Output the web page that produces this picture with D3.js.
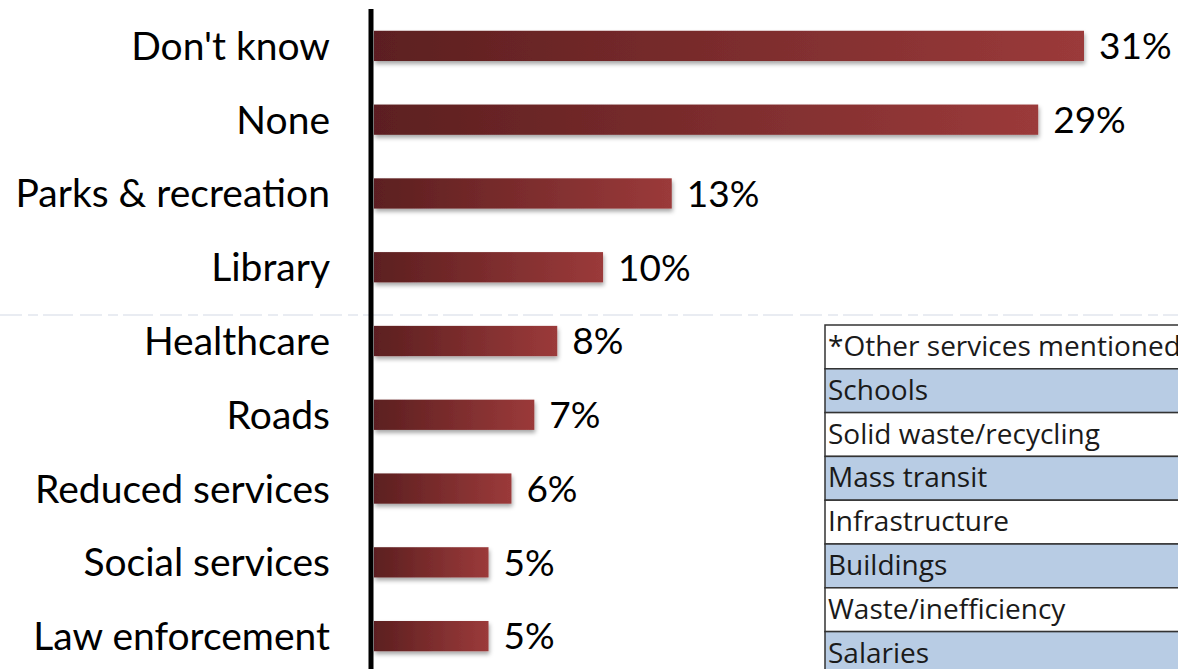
<!DOCTYPE html>
<html lang="en">
<head>
  <meta charset="utf-8" />
  <title>Services to cut</title>
  <script src="https://cdn.jsdelivr.net/npm/d3@7/dist/d3.min.js"></script>
  <style>
    body { margin: 0; background: #fff; }
    svg { display: block; }
    .cat-label { font-family: Lato, "Open Sans", sans-serif; font-size: 39px; fill: #000; }
    .val-label { font-family: Lato, "Open Sans", sans-serif; font-size: 37px; fill: #000; }
    .tbl-text { font-family: "Open Sans", Lato, sans-serif; font-size: 28px; fill: #1a1a1a; }
  </style>
</head>
<body>
<div id="chart"></div>
<script>
  // data
  const categories = ["Don't know", "None", "Parks & recreation", "Library", "Healthcare",
                      "Roads", "Reduced services", "Social services", "Law enforcement"];
  const values = [31, 29, 13, 10, 8, 7, 6, 5, 5];
  const otherServices = ["*Other services mentioned", "Schools", "Solid waste/recycling",
                         "Mass transit", "Infrastructure", "Buildings", "Waste/inefficiency", "Salaries"];

  const width = 1178, height = 669;
  const svg = d3.select("#chart").append("svg")
    .attr("width", width)
    .attr("height", height);

  const defs = svg.append("defs");
  const grad = defs.append("linearGradient")
    .attr("id", "barGrad").attr("x1", 0).attr("x2", 1).attr("y1", 0).attr("y2", 0);
  grad.append("stop").attr("offset", "0%").attr("stop-color", "#5c1f20");
  grad.append("stop").attr("offset", "100%").attr("stop-color", "#9b3a3a");

  const shadow = defs.append("filter").attr("id", "shadow")
    .attr("x", "-5%").attr("y", "-20%").attr("width", "115%").attr("height", "160%");
  shadow.append("feDropShadow")
    .attr("dx", 1).attr("dy", 3).attr("stdDeviation", 2)
    .attr("flood-color", "#000").attr("flood-opacity", 0.35);

  const x0 = 374;
  const x = d3.scaleLinear().domain([0, 31]).range([x0, 1084]);
  const y = d3.scaleBand().domain(categories).range([9, 673])
    .paddingInner(0.59).paddingOuter(0.295);

  // faint dashed seam across the chart
  svg.append("line")
    .attr("x1", 0).attr("x2", width).attr("y1", 315).attr("y2", 315)
    .attr("stroke", "#d3dae5").attr("stroke-width", 1.2)
    .attr("stroke-dasharray", "22,6,10,5,30,7");

  // bars
  svg.append("g").selectAll("rect")
    .data(values)
    .join("rect")
    .attr("x", x0)
    .attr("y", (d, i) => y(categories[i]))
    .attr("width", d => x(d) - x0)
    .attr("height", y.bandwidth())
    .attr("fill", "url(#barGrad)")
    .attr("filter", "url(#shadow)");

  // category labels
  svg.append("g").selectAll("text")
    .data(categories)
    .join("text")
    .attr("class", "cat-label")
    .attr("x", 330)
    .attr("y", d => y(d) + y.bandwidth() / 2)
    .attr("dy", "0.36em")
    .attr("text-anchor", "end")
    .text(d => d);

  // value labels
  svg.append("g").selectAll("text")
    .data(values)
    .join("text")
    .attr("class", "val-label")
    .attr("x", d => x(d) + 15)
    .attr("y", (d, i) => y(categories[i]) + y.bandwidth() / 2)
    .attr("dy", "0.36em")
    .text(d => d + "%");

  // vertical axis line
  svg.append("line")
    .attr("x1", 371).attr("x2", 371).attr("y1", 9).attr("y2", height)
    .attr("stroke", "#000").attr("stroke-width", 5);

  // table of other services (runs off the right and bottom edge, as in the source)
  const tx = 825, ty = 325, rowH = 43.8;
  const tbl = svg.append("g");
  tbl.selectAll("rect")
    .data(otherServices)
    .join("rect")
    .attr("x", tx)
    .attr("y", (d, i) => ty + i * rowH)
    .attr("width", 400)
    .attr("height", rowH)
    .attr("fill", (d, i) => i % 2 === 1 ? "#b8cce4" : "#fff")
    .attr("stroke", "#333")
    .attr("stroke-width", 1.5);
  tbl.selectAll("text")
    .data(otherServices)
    .join("text")
    .attr("class", "tbl-text")
    .attr("x", tx + 3)
    .attr("y", (d, i) => ty + i * rowH + rowH / 2 - 1)
    .attr("dy", "0.36em")
    .text(d => d);
</script>
</body>
</html>
